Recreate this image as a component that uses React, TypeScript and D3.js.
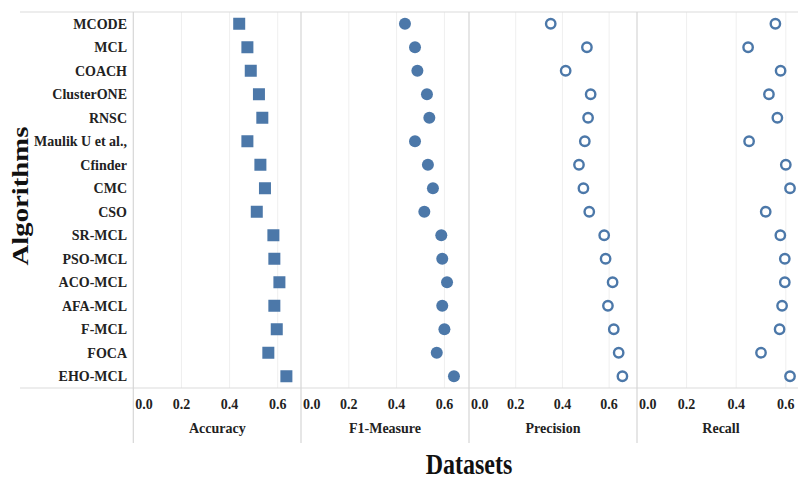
import React, { useRef, useEffect } from "react";
import * as d3 from "d3";

const algorithms = [
  "MCODE",
  "MCL",
  "COACH",
  "ClusterONE",
  "RNSC",
  "Maulik U et al.,",
  "Cfinder",
  "CMC",
  "CSO",
  "SR-MCL",
  "PSO-MCL",
  "ACO-MCL",
  "AFA-MCL",
  "F-MCL",
  "FOCA",
  "EHO-MCL",
];
const datasets = ["Accuracy", "F1-Measure", "Precision", "Recall"];

const accuracy = [0.44, 0.474, 0.488, 0.522, 0.536, 0.474, 0.528, 0.547, 0.513, 0.582, 0.586, 0.607, 0.586, 0.596, 0.561, 0.636];
const f1Measure = [0.435, 0.477, 0.487, 0.527, 0.537, 0.477, 0.531, 0.552, 0.516, 0.587, 0.591, 0.611, 0.591, 0.6, 0.568, 0.64];
const precision = [0.35, 0.505, 0.414, 0.521, 0.51, 0.496, 0.471, 0.49, 0.515, 0.579, 0.585, 0.615, 0.595, 0.62, 0.641, 0.657];
const recall = [0.558, 0.448, 0.579, 0.532, 0.566, 0.452, 0.6, 0.617, 0.519, 0.578, 0.596, 0.596, 0.585, 0.575, 0.5, 0.617];

const tickValues = [0, 0.2, 0.4, 0.6];

const WIDTH = 798;
const HEIGHT = 483;
const TOP = 12;
const BOTTOM = 388;
const panelLeft = [133.3, 301, 469, 637];
const pxPerUnit = [240.7, 239, 233.5, 248];
const BLUE = "#4c78a9";
const SERIF = "'Liberation Serif', 'Times New Roman', serif";

const App = () => {
  const svgRef = useRef<SVGSVGElement>(null);

  useEffect(() => {
    const svg = d3.select(svgRef.current);
    svg.selectAll("*").remove();

    const series = [accuracy, f1Measure, precision, recall];
    const yScale = d3.scaleBand().domain(algorithms).range([TOP, BOTTOM]).padding(0);
    const yc = (a: string) => (yScale(a) as number) + yScale.bandwidth() / 2;

    const panels = datasets.map((name, i) => ({
      name,
      values: series[i],
      x: d3
        .scaleLinear()
        .domain([0, 0.7])
        .range([panelLeft[i], panelLeft[i] + 0.7 * pxPerUnit[i]]),
    }));

    // gridlines
    panels.forEach((p) => {
      svg
        .append("g")
        .selectAll("line")
        .data(tickValues.filter((t) => t > 0))
        .join("line")
        .attr("x1", (d) => p.x(d))
        .attr("x2", (d) => p.x(d))
        .attr("y1", TOP)
        .attr("y2", BOTTOM)
        .attr("stroke", "#efefef")
        .attr("stroke-width", 1);
    });

    // frame lines
    [TOP, BOTTOM].forEach((y) => {
      svg
        .append("line")
        .attr("x1", 20)
        .attr("x2", WIDTH)
        .attr("y1", y)
        .attr("y2", y)
        .attr("stroke", "#dcdcdc")
        .attr("stroke-width", 1.2);
    });
    panels.forEach((p) => {
      svg
        .append("line")
        .attr("x1", p.x(0))
        .attr("x2", p.x(0))
        .attr("y1", TOP)
        .attr("y2", 443)
        .attr("stroke", "#d6d6d6")
        .attr("stroke-width", 1.2);
    });

    // row labels
    svg
      .append("g")
      .selectAll("text")
      .data(algorithms)
      .join("text")
      .attr("x", 127)
      .attr("y", (d) => yc(d) + 5)
      .attr("text-anchor", "end")
      .attr("fill", "#222")
      .style("font-family", SERIF)
      .style("font-weight", "bold")
      .style("font-size", "14px")
      .text((d) => d);

    // tick labels and dataset names
    panels.forEach((p) => {
      svg
        .append("g")
        .selectAll("text")
        .data(tickValues)
        .join("text")
        .attr("x", (d) => (d === 0 ? p.x(0) + 2 : p.x(d)))
        .attr("y", 409)
        .attr("text-anchor", (d) => (d === 0 ? "start" : "middle"))
        .attr("fill", "#222")
        .style("font-family", SERIF)
        .style("font-weight", "bold")
        .style("font-size", "14px")
        .text((d) => d3.format(".1f")(d));

      svg
        .append("text")
        .attr("x", p.x(0) + 84)
        .attr("y", 433)
        .attr("text-anchor", "middle")
        .attr("fill", "#222")
        .style("font-family", SERIF)
        .style("font-weight", "bold")
        .style("font-size", "14px")
        .text(p.name);
    });

    // marks
    const [acc, f1, prec, rec] = panels;
    svg
      .append("g")
      .selectAll("rect")
      .data(acc.values)
      .join("rect")
      .attr("x", (d) => acc.x(d) - 6)
      .attr("y", (d, i) => yc(algorithms[i]) - 6)
      .attr("width", 12)
      .attr("height", 12)
      .attr("fill", BLUE);

    svg
      .append("g")
      .selectAll("circle")
      .data(f1.values)
      .join("circle")
      .attr("cx", (d) => f1.x(d))
      .attr("cy", (d, i) => yc(algorithms[i]))
      .attr("r", 6)
      .attr("fill", BLUE);

    [prec, rec].forEach((p) => {
      svg
        .append("g")
        .selectAll("circle")
        .data(p.values)
        .join("circle")
        .attr("cx", (d) => p.x(d))
        .attr("cy", (d, i) => yc(algorithms[i]))
        .attr("r", 4.7)
        .attr("fill", "white")
        .attr("stroke", BLUE)
        .attr("stroke-width", 2.4);
    });

    // axis titles
    svg
      .append("text")
      .attr("transform", "translate(469,474) scale(1,1.2)")
      .attr("text-anchor", "middle")
      .attr("fill", "#111")
      .style("font-family", SERIF)
      .style("font-weight", "bold")
      .style("font-size", "24px")
      .text("Datasets");

    svg
      .append("text")
      .attr("transform", "translate(28,196) rotate(-90) scale(1.25,1)")
      .attr("text-anchor", "middle")
      .attr("fill", "#111")
      .style("font-family", SERIF)
      .style("font-weight", "bold")
      .style("font-size", "23px")
      .text("Algorithms");
  }, []);

  return (
    <svg
      ref={svgRef}
      width={WIDTH}
      height={HEIGHT}
      style={{ position: "absolute", left: 0, top: 0, background: "white" }}
    />
  );
};

export default App;
